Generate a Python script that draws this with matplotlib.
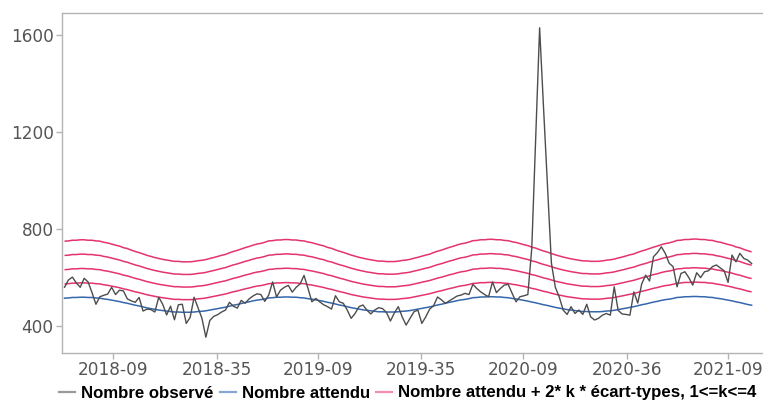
import matplotlib
matplotlib.use('Agg')
import matplotlib.pyplot as plt
import numpy as np
import pandas as pd
from datetime import datetime, timedelta
from matplotlib.lines import Line2D

# weekly series, Mondays from 2017-12-04 (week 2017-49) to 2021-04-12 (week 2021-15)
weeks = pd.date_range('2017-12-04', periods=176, freq='7D')

observed = [
    560, 590, 602, 578, 560, 597, 582, 538, 490, 521, 527, 532, 560, 530, 548, 545,
    512, 504, 498, 518, 462, 470, 468, 458, 519, 490, 446, 482, 426, 488, 490, 411,
    436, 519, 476, 432, 354, 423, 440, 447, 458, 466, 498, 482, 474, 506, 494, 512,
    524, 533, 530, 502, 528, 582, 520, 548, 560, 568, 540, 560, 574, 609, 556, 500,
    514, 500, 488, 480, 470, 525, 500, 494, 466, 432, 452, 480, 487, 466, 450, 466,
    476, 472, 456, 421, 454, 480, 438, 404, 432, 459, 466, 411, 438, 470, 484, 520,
    508, 494, 504, 514, 524, 528, 535, 530, 572, 555, 541, 530, 521, 582, 538, 555,
    569, 572, 535, 500, 521, 525, 530, 720, 1180, 1630, 1300, 980, 660, 560, 520, 466,
    448, 480, 452, 466, 448, 490, 438, 425, 432, 445, 452, 445, 562, 465, 450, 448,
    445, 541, 495, 574, 610, 586, 686, 703, 727, 700, 659, 645, 562, 617, 624, 600,
    569, 620, 600, 624, 628, 645, 652, 640, 628, 580, 693, 665, 700, 679, 672, 658,
]

expected = [
    515, 516, 518, 518, 519, 519, 518, 518, 516, 515, 512, 510, 507, 504, 501, 497,
    494, 490, 486, 483, 479, 475, 472, 469, 466, 464, 462, 460, 458, 458, 457, 457,
    457, 458, 460, 461, 463, 466, 469, 472, 475, 478, 482, 486, 489, 493, 497, 500,
    504, 507, 509, 512,
    516, 517, 519, 519, 520, 520, 519, 519, 517, 516, 513, 511, 508, 505, 502, 498,
    495, 491, 487, 484, 480, 476, 473, 470, 467, 465, 463, 461, 459, 459, 458, 458,
    458, 459, 461, 462, 464, 467, 470, 473, 476, 479, 483, 487, 490, 494, 498, 501,
    505, 508, 510, 513,
    517, 518, 520, 520, 521, 521, 520, 520, 518, 517, 514, 512, 509, 506, 503, 499,
    496, 492, 488, 485, 481, 477, 474, 471, 468, 466, 464, 462, 460, 460, 459, 459,
    459, 460, 462, 463, 465, 468, 471, 474, 477, 480, 484, 488, 491, 495, 499, 502,
    506, 509, 511, 514,
    518, 519, 521, 521, 522, 522, 521, 521, 519, 518, 515, 513, 510, 507, 504, 500,
    497, 493, 489, 486,
]

sd = [
    29.4, 29.4, 29.5, 29.5, 29.6, 29.6, 29.5, 29.5, 29.4, 29.4, 29.2, 29.1, 28.9, 28.7, 28.6, 28.3,
    28.2, 27.9, 27.7, 27.5, 27.3, 27.1, 26.9, 26.7, 26.6, 26.4, 26.3, 26.2, 26.1, 26.1, 26.0, 26.0,
    26.0, 26.1, 26.2, 26.3, 26.4, 26.6, 26.7, 26.9, 27.1, 27.2, 27.5, 27.7, 27.9, 28.1, 28.3, 28.5,
    28.7, 28.9, 29.0, 29.2,
    29.4, 29.4, 29.5, 29.5, 29.6, 29.6, 29.5, 29.5, 29.4, 29.4, 29.2, 29.1, 28.9, 28.7, 28.6, 28.3,
    28.2, 27.9, 27.7, 27.5, 27.3, 27.1, 26.9, 26.7, 26.6, 26.4, 26.3, 26.2, 26.1, 26.1, 26.0, 26.0,
    26.0, 26.1, 26.2, 26.3, 26.4, 26.6, 26.7, 26.9, 27.1, 27.2, 27.5, 27.7, 27.9, 28.1, 28.3, 28.5,
    28.7, 28.9, 29.0, 29.2,
    29.4, 29.4, 29.5, 29.5, 29.6, 29.6, 29.5, 29.5, 29.4, 29.4, 29.2, 29.1, 28.9, 28.7, 28.6, 28.3,
    28.2, 27.9, 27.7, 27.5, 27.3, 27.1, 26.9, 26.7, 26.6, 26.4, 26.3, 26.2, 26.1, 26.1, 26.0, 26.0,
    26.0, 26.1, 26.2, 26.3, 26.4, 26.6, 26.7, 26.9, 27.1, 27.2, 27.5, 27.7, 27.9, 28.1, 28.3, 28.5,
    28.7, 28.9, 29.0, 29.2,
    29.4, 29.4, 29.5, 29.5, 29.6, 29.6, 29.5, 29.5, 29.4, 29.4, 29.2, 29.1, 28.9, 28.7, 28.6, 28.3,
    28.2, 27.9, 27.7, 27.5,
]

k_values = [1, 2, 3, 4]

tick_dates = ['2018-03-01', '2018-09-01', '2019-03-01', '2019-09-01',
              '2020-03-01', '2020-09-01', '2021-03-01']
tick_labels = ['2018-09', '2018-35', '2019-09', '2019-35', '2020-09', '2020-36', '2021-09']
y_ticks = [400, 800, 1200, 1600]

legend_labels = ['Nombre observé', 'Nombre attendu',
                 'Nombre attendu + 2* k * écart-types, 1<=k<=4']

c_obs = '#4d4d4d'
c_exp = '#3567ad'
c_thr = '#e5336b'

obs = np.array(observed, dtype=float)
exp_ = np.array(expected, dtype=float)
sdv = np.array(sd, dtype=float)

W, H = 763, 403
fig = plt.figure(figsize=(W / 100, H / 100), dpi=100)
ax = fig.add_axes([62 / W, 50 / H, (766 - 62) / W, (353 - 13) / H])

for k in k_values:
    ax.plot(weeks, exp_ + 2 * k * sdv, color=c_thr, lw=1.1, solid_capstyle='butt')
ax.plot(weeks, exp_, color=c_exp, lw=1.1)
ax.plot(weeks, obs, color=c_obs, lw=1.0)

ref = datetime(2018, 3, 1)
ax.set_xlim(ref - timedelta(days=91.5), ref + timedelta(days=1163.6))
ax.set_ylim(289, 1691)

ax.set_xticks([pd.Timestamp(d) for d in tick_dates])
ax.set_xticklabels(tick_labels)
ax.set_yticks(y_ticks)
ax.set_yticklabels([str(v) for v in y_ticks])

spine_c = '#b3b3b3'
for s in ['left', 'bottom', 'top']:
    ax.spines[s].set_color(spine_c)
    ax.spines[s].set_linewidth(1.0)
ax.spines['right'].set_visible(False)
ax.tick_params(axis='both', colors=spine_c, length=4, width=1.0, pad=2,
               labelcolor='#555555', labelsize=12.2)

handles = [Line2D([], [], color='#9a9a9a', lw=1.6),
           Line2D([], [], color='#86a6d6', lw=1.6),
           Line2D([], [], color='#f28fb0', lw=1.6)]
fig.legend(handles, legend_labels, loc='center', bbox_to_anchor=(0.5347, 10 / H),
           ncol=3, frameon=False,
           prop=dict(family='Liberation Sans', weight='bold', size=12.1),
           handlelength=0.95, handletextpad=0.36, columnspacing=0.36,
           borderaxespad=0, borderpad=0)

fig.savefig('out.png', dpi=100)
